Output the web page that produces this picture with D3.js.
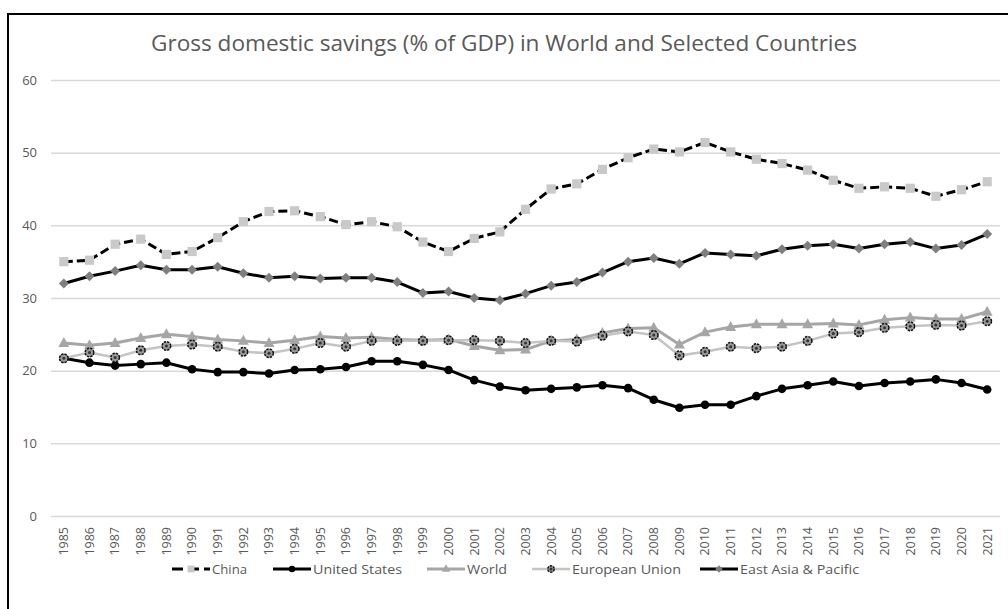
<!DOCTYPE html>
<html>
<head>
<meta charset="utf-8">
<script src="https://cdn.jsdelivr.net/npm/d3@7"></script>
<style>
  html, body { margin: 0; padding: 0; background: #fff; overflow: hidden; }
  svg { display: block; overflow: hidden; }
  text { font-family: "Open Sans", "Liberation Sans", sans-serif; }
</style>
</head>
<body>
<svg id="chart" width="1008" height="609"></svg>
<script>
// Gross domestic savings, % of GDP, 1985–2021
const years = d3.range(1985, 2022).map(String);

const china = [35.0, 35.2, 37.4, 38.1, 36.0, 36.4, 38.3, 40.5, 41.9, 42.0, 41.2, 40.1, 40.5,
  39.8, 37.7, 36.4, 38.2, 39.1, 42.2, 45.0, 45.7, 47.7, 49.3, 50.5, 50.1, 51.4,
  50.1, 49.1, 48.5, 47.6, 46.2, 45.1, 45.3, 45.1, 44.0, 44.9, 46.0];

const unitedStates = [21.7, 21.1, 20.7, 20.9, 21.1, 20.2, 19.8, 19.8, 19.6, 20.1, 20.2, 20.5, 21.3,
  21.3, 20.8, 20.1, 18.7, 17.8, 17.3, 17.5, 17.7, 18.0, 17.6, 16.0, 14.9, 15.3,
  15.3, 16.5, 17.5, 18.0, 18.5, 17.9, 18.3, 18.5, 18.8, 18.3, 17.4];

const world = [23.8, 23.5, 23.8, 24.5, 25.0, 24.7, 24.3, 24.1, 23.8, 24.2, 24.7, 24.5, 24.6,
  24.3, 24.2, 24.3, 23.4, 22.8, 22.9, 24.1, 24.3, 25.2, 25.8, 25.9, 23.6, 25.3,
  26.0, 26.4, 26.4, 26.4, 26.5, 26.3, 27.0, 27.3, 27.1, 27.1, 28.1];

const europeanUnion = [21.7, 22.5, 21.8, 22.8, 23.4, 23.6, 23.3, 22.6, 22.4, 23.0, 23.8, 23.3, 24.1,
  24.1, 24.1, 24.2, 24.2, 24.1, 23.8, 24.1, 24.0, 24.8, 25.4, 24.9, 22.1, 22.6,
  23.3, 23.1, 23.3, 24.1, 25.1, 25.3, 25.9, 26.1, 26.3, 26.2, 26.8];

const eastAsiaPacific = [32.0, 33.0, 33.7, 34.5, 33.9, 33.9, 34.3, 33.4, 32.8, 33.0, 32.7, 32.8, 32.8,
  32.2, 30.7, 30.9, 30.0, 29.7, 30.6, 31.7, 32.2, 33.5, 35.0, 35.5, 34.7, 36.2,
  36.0, 35.8, 36.7, 37.2, 37.4, 36.8, 37.4, 37.7, 36.8, 37.3, 38.8];

const yTicks = [0, 10, 20, 30, 40, 50, 60];

const seriesNames = ["China", "United States", "World", "European Union", "East Asia & Pacific"];
const seriesValues = [china, unitedStates, world, europeanUnion, eastAsiaPacific];

const title = "Gross domestic savings (% of GDP) in World and Selected Countries";

// Drawing styles per series
const styles = {
  "China":               { stroke: "#000", width: 3,   dash: "9,4", marker: "square",   fill: "#c9c9c9", mStroke: "none", size: 4.6 },
  "United States":       { stroke: "#000", width: 3,   dash: null,  marker: "circle",   fill: "#000",    mStroke: "none", size: 4.3 },
  "World":               { stroke: "#a6a6a6", width: 3, dash: null, marker: "triangle", fill: "#a6a6a6", mStroke: "none", size: 5 },
  "European Union":      { stroke: "#c4c4c4", width: 2.5, dash: null, marker: "pattern", fill: "#9a9a9a", mStroke: "#111", size: 4.3 },
  "East Asia & Pacific": { stroke: "#000", width: 3,   dash: null,  marker: "diamond",  fill: "#7f7f7f", mStroke: "none", size: 5 }
};

// Legend layout: symbol start and label width for each entry
const legendX = [172, 273, 427, 532, 700];
const legendLabelW = [35, 89, 40, 109, 119];

const svg = d3.select("#chart");
const plot = { left: 51, right: 1000, top: 80, bottom: 516 };

const x = d3.scaleBand().domain(years).range([plot.left, plot.right]);
const y = d3.scaleLinear().domain([0, 60]).range([plot.bottom, plot.top]);
const cx = yr => x(yr) + x.bandwidth() / 2;

// Outer chart frame: top and left edges
svg.append("line").attr("x1", 7).attr("x2", 1008).attr("y1", 14).attr("y2", 14)
  .attr("stroke", "#000").attr("stroke-width", 2);
svg.append("line").attr("x1", 8).attr("x2", 8).attr("y1", 13).attr("y2", 609)
  .attr("stroke", "#000").attr("stroke-width", 2);

// Title, fitted to width
const t = svg.append("text")
  .attr("x", 504).attr("y", 51)
  .attr("text-anchor", "middle")
  .attr("fill", "#595959")
  .style("font-size", "19px")
  .text(title);
const tw = t.node().getComputedTextLength();
t.style("font-size", (19 * 706 / tw).toFixed(2) + "px");

// Horizontal gridlines and y labels
const yAxis = d3.axisLeft(y).tickValues(yTicks).tickSize(-(plot.right - plot.left)).tickPadding(14);
const gy = svg.append("g").attr("transform", `translate(${plot.left},0)`).call(yAxis);
gy.select(".domain").remove();
gy.selectAll(".tick line").attr("stroke", "#d9d9d9").attr("stroke-width", 1.5);
gy.selectAll(".tick text")
  .attr("fill", "#595959")
  .style("font-size", "13px")
  .style("font-family", "'Open Sans', sans-serif");

// X axis labels (rotated years)
const xAxis = d3.axisBottom(x).tickSize(0).tickPadding(0);
const gx = svg.append("g").attr("transform", `translate(0,${plot.bottom})`).call(xAxis);
gx.select(".domain").remove();
gx.selectAll(".tick text")
  .attr("fill", "#595959")
  .style("font-size", "12.5px")
  .style("font-family", "'Open Sans', sans-serif")
  .attr("text-anchor", "end")
  .attr("dy", "0.35em")
  .attr("transform", "translate(0,11) rotate(-90)")
  .attr("x", 0).attr("y", 0);

// Marker drawing helper
function drawMarker(g, kind, st, px, py) {
  const s = st.size;
  if (kind === "square") {
    g.append("rect").attr("x", px - s).attr("y", py - s).attr("width", 2 * s).attr("height", 2 * s)
      .attr("fill", st.fill);
  } else if (kind === "circle") {
    g.append("circle").attr("cx", px).attr("cy", py).attr("r", s).attr("fill", st.fill);
  } else if (kind === "triangle") {
    g.append("path")
      .attr("d", `M${px},${py - s - 1}L${px + s + 0.5},${py + s - 1}L${px - s - 0.5},${py + s - 1}Z`)
      .attr("fill", st.fill);
  } else if (kind === "diamond") {
    g.append("path")
      .attr("d", `M${px},${py - s}L${px + s},${py}L${px},${py + s}L${px - s},${py}Z`)
      .attr("fill", st.fill);
  } else if (kind === "pattern") {
    g.append("circle").attr("cx", px).attr("cy", py).attr("r", s)
      .attr("fill", st.fill).attr("stroke", st.mStroke).attr("stroke-width", 1.5)
      .attr("stroke-dasharray", "2.4,1");
    g.append("circle").attr("cx", px).attr("cy", py).attr("r", 1.5).attr("fill", "#333");
  }
}

// Series lines and markers
const line = d3.line().x((d, i) => cx(years[i])).y(d => y(d));

seriesNames.forEach((name, k) => {
  const st = styles[name];
  const vals = seriesValues[k];
  const g = svg.append("g").attr("class", "series");
  g.append("path")
    .datum(vals)
    .attr("d", line)
    .attr("fill", "none")
    .attr("stroke", st.stroke)
    .attr("stroke-width", st.width)
    .attr("stroke-linejoin", "round")
    .attr("stroke-dasharray", st.dash);
  vals.forEach((v, i) => drawMarker(g, st.marker, st, cx(years[i]), y(v)));
});

// Legend
const legendY = 569;
seriesNames.forEach((name, k) => {
  const st = styles[name];
  const g = svg.append("g");
  const x0 = legendX[k];
  g.append("line")
    .attr("x1", x0).attr("x2", x0 + 38).attr("y1", legendY).attr("y2", legendY)
    .attr("stroke", st.stroke).attr("stroke-width", st.width)
    .attr("stroke-dasharray", st.dash ? "11,5" : null);
  drawMarker(g, st.marker, Object.assign({}, st, { size: st.size * 0.75 }), x0 + 19, legendY);
  g.append("text")
    .attr("x", x0 + 40).attr("y", legendY).attr("dy", "0.35em")
    .attr("fill", "#595959")
    .style("font-size", "13px")
    .attr("textLength", legendLabelW[k])
    .attr("lengthAdjust", "spacingAndGlyphs")
    .text(name);
});
</script>
</body>
</html>
